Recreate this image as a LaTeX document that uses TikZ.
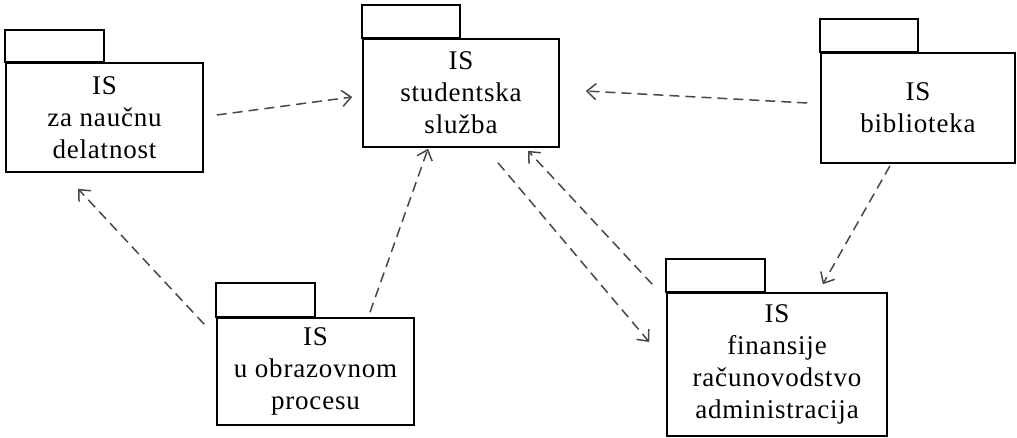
\documentclass[tikz,border=0pt]{standalone}
\usepackage{fontspec}
\setmainfont{Liberation Serif}[LetterSpace=3]
\usetikzlibrary{arrows.meta,calc}
\begin{document}
\begin{tikzpicture}[x=1pt,y=-1pt,
  pkg/.style={draw, line width=1.6pt, inner sep=0pt, align=center, font=\fontsize{27}{32}\selectfont},
  tabbox/.style={draw, line width=1.6pt},
  dep/.style={draw=black!72, line width=1.5pt, dash pattern=on 10pt off 6pt,
    -{Straight Barb[length=9pt,width=16pt,line width=1.5pt]}}]
\useasboundingbox (0,0) rectangle (1017,438);
% packages
\node[pkg, minimum width=197pt, minimum height=109pt] (nauka) at (104.5,117.5) {IS\\za naučnu\\delatnost};
\node[pkg, minimum width=196pt, minimum height=108pt] (stud) at (461,93) {IS\\studentska\\služba};
\node[pkg, minimum width=194pt, minimum height=110pt] (bib) at (918,108) {IS\\biblioteka};
\node[pkg, minimum width=197pt, minimum height=107pt] (obraz) at (315.5,371.5) {IS\\u obrazovnom\\procesu};
\node[pkg, minimum width=220pt, minimum height=143pt] (fin) at (777,364.5) {IS\\finansije\\računovodstvo\\administracija};
% tabs
\draw[tabbox] (nauka.north west) rectangle ++(99,-32);
\draw[tabbox] (stud.north west) rectangle ++(98,-33);
\draw[tabbox] (bib.north west) rectangle ++(98,-33);
\draw[tabbox] (obraz.north west) rectangle ++(99,-34);
\draw[tabbox] (fin.north west) rectangle ++(99,-33);
% dependencies
\draw[dep] ($(nauka.east)+(13,-2.5)$) -- ($(stud.west)+(-10,4)$);
\draw[dep] ($(obraz.north west)+(-12,7)$) -- ($(nauka.south)+(-26.5,16)$);
\draw[dep] ($(obraz.north)+(54.5,-5)$) -- ($(stud.south)+(-33,1)$);
\draw[dep] ($(bib.west)+(-13,-5)$) -- ($(stud.east)+(26,-2)$);
\draw[dep] ($(stud.south)+(37,15)$) -- ($(fin.west)+(-17,-22.5)$);
\draw[dep] ($(fin.north west)+(-14,-8)$) -- ($(stud.south)+(67,3)$);
\draw[dep] ($(bib.south)+(-28,2)$) -- ($(fin.north east)+(-65,-8)$);
\end{tikzpicture}
\end{document}
